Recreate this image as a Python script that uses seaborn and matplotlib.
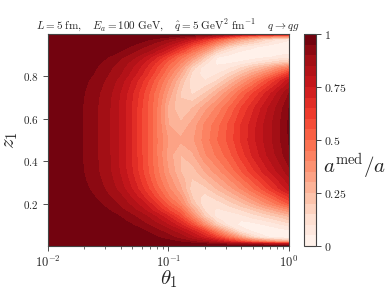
import numpy as np
import matplotlib
matplotlib.use("Agg")
import matplotlib.pyplot as plt
import seaborn as sns

# emission angle theta_1 (log spaced columns) and momentum fraction z_1 (rows)
theta = [0.01, 0.0158, 0.02, 0.0251, 0.0316, 0.0398, 0.0501, 0.0631, 0.0794, 0.1,
         0.126, 0.158, 0.2, 0.251, 0.316, 0.398, 0.501, 0.631, 0.794, 1.0]
z = [0.0, 0.01, 0.02, 0.04, 0.055, 0.07, 0.1, 0.12, 0.14, 0.17, 0.2, 0.235,
     0.27, 0.31, 0.35, 0.43, 0.5, 0.57, 0.65, 0.72, 0.78, 0.81, 0.84, 0.865,
     0.89, 0.915, 0.94, 0.96, 0.975, 0.99, 1.0]

ratio = [
    [1, 1, 1, 1, 1, 1, 1, 1, 1, 1, 1, 1, 1, 1, 1, 1, 1, 0.99, 0.98, 0.97],
    [1, 1, 1, 1, 1, 1, 1, 1, 1, 1, 0.99, 0.975, 0.95, 0.92, 0.89, 0.86, 0.83, 0.8, 0.77, 0.75],
    [1, 1, 1, 1, 1, 1, 1, 1, 0.99, 0.975, 0.945, 0.905, 0.86, 0.785, 0.69, 0.6, 0.5, 0.42, 0.35, 0.3],
    [1, 1, 1, 1, 1, 1, 0.994, 0.981, 0.957, 0.921, 0.878, 0.815, 0.73, 0.62, 0.48, 0.33, 0.17, 0.07, 0.025, 0.01],
    [1, 1, 1, 1, 1, 0.998, 0.988, 0.97, 0.939, 0.898, 0.849, 0.771, 0.67, 0.52, 0.36, 0.2, 0.09, 0.03, 0.012, 0.01],
    [1, 1, 1, 1, 1, 0.993, 0.98, 0.954, 0.917, 0.873, 0.81, 0.72, 0.6, 0.42, 0.25, 0.1, 0.04, 0.015, 0.015, 0.03],
    [1, 1, 1, 1, 0.992, 0.978, 0.951, 0.913, 0.869, 0.8, 0.71, 0.58, 0.38, 0.2, 0.08, 0.03, 0.025, 0.05, 0.08, 0.12],
    [1, 1, 1, 0.996, 0.984, 0.963, 0.929, 0.887, 0.83, 0.75, 0.644, 0.49, 0.29, 0.13, 0.06, 0.05, 0.07, 0.1, 0.14, 0.185],
    [1, 1, 1, 0.991, 0.977, 0.948, 0.909, 0.865, 0.793, 0.7, 0.58, 0.4, 0.2, 0.08, 0.06, 0.08, 0.12, 0.16, 0.2, 0.25],
    [1, 1, 0.992, 0.978, 0.951, 0.913, 0.869, 0.8, 0.71, 0.598, 0.5, 0.31, 0.14, 0.09, 0.11, 0.15, 0.2, 0.26, 0.32, 0.39],
    [1, 0.996, 0.984, 0.963, 0.929, 0.887, 0.83, 0.755, 0.644, 0.527, 0.41, 0.23, 0.1, 0.12, 0.17, 0.23, 0.3, 0.38, 0.46, 0.55],
    [1, 0.99, 0.975, 0.945, 0.905, 0.86, 0.785, 0.69, 0.575, 0.455, 0.36, 0.19, 0.13, 0.18, 0.245, 0.315, 0.395, 0.48, 0.57, 0.665],
    [1, 0.984, 0.962, 0.929, 0.886, 0.828, 0.745, 0.64, 0.525, 0.41, 0.31, 0.16, 0.18, 0.25, 0.32, 0.4, 0.49, 0.58, 0.68, 0.78],
    [1, 0.98, 0.954, 0.917, 0.873, 0.81, 0.72, 0.61, 0.49, 0.378, 0.28, 0.19, 0.24, 0.31, 0.385, 0.47, 0.56, 0.65, 0.74, 0.83],
    [1, 0.977, 0.948, 0.909, 0.865, 0.793, 0.7, 0.587, 0.467, 0.35, 0.25, 0.22, 0.3, 0.37, 0.45, 0.54, 0.63, 0.72, 0.8, 0.88],
    [1, 0.975, 0.945, 0.905, 0.86, 0.785, 0.69, 0.575, 0.455, 0.32, 0.25, 0.29, 0.39, 0.46, 0.53, 0.62, 0.71, 0.79, 0.86, 0.94],
    [1, 0.975, 0.945, 0.905, 0.86, 0.785, 0.69, 0.575, 0.455, 0.345, 0.31, 0.34, 0.42, 0.495, 0.565, 0.655, 0.735, 0.81, 0.88, 0.955],
    [1, 0.975, 0.945, 0.905, 0.86, 0.785, 0.69, 0.575, 0.455, 0.3, 0.26, 0.32, 0.41, 0.48, 0.56, 0.65, 0.73, 0.81, 0.88, 0.96],
    [1, 0.975, 0.945, 0.905, 0.86, 0.785, 0.69, 0.575, 0.455, 0.28, 0.21, 0.25, 0.33, 0.41, 0.5, 0.6, 0.69, 0.78, 0.86, 0.95],
    [1, 0.978, 0.95, 0.911, 0.867, 0.796, 0.704, 0.592, 0.473, 0.33, 0.195, 0.14, 0.2, 0.29, 0.39, 0.5, 0.6, 0.7, 0.8, 0.9],
    [1, 0.983, 0.961, 0.927, 0.885, 0.825, 0.74, 0.637, 0.52, 0.39, 0.24, 0.11, 0.1, 0.15, 0.24, 0.34, 0.44, 0.55, 0.66, 0.78],
    [1, 0.989, 0.972, 0.941, 0.9, 0.852, 0.776, 0.679, 0.563, 0.435, 0.295, 0.13, 0.075, 0.1, 0.16, 0.245, 0.33, 0.415, 0.52, 0.64],
    [1, 0.992, 0.978, 0.951, 0.913, 0.869, 0.8, 0.71, 0.598, 0.479, 0.35, 0.17, 0.065, 0.06, 0.09, 0.15, 0.22, 0.28, 0.37, 0.45],
    [1, 0.996, 0.984, 0.962, 0.928, 0.886, 0.828, 0.745, 0.64, 0.524, 0.41, 0.26, 0.12, 0.04, 0.04, 0.06, 0.1, 0.14, 0.18, 0.22],
    [1, 1, 0.991, 0.977, 0.948, 0.909, 0.865, 0.793, 0.7, 0.587, 0.467, 0.356, 0.2, 0.05, 0.025, 0.015, 0.02, 0.04, 0.06, 0.08],
    [1, 1, 1, 0.99, 0.975, 0.945, 0.905, 0.86, 0.785, 0.69, 0.575, 0.455, 0.32, 0.16, 0.08, 0.04, 0.03, 0.025, 0.025, 0.03],
    [1, 1, 1, 1, 0.989, 0.972, 0.942, 0.9, 0.852, 0.776, 0.68, 0.56, 0.45, 0.3, 0.18, 0.1, 0.06, 0.03, 0.015, 0.01],
    [1, 1, 1, 1, 0.998, 0.987, 0.969, 0.937, 0.896, 0.845, 0.766, 0.667, 0.57, 0.44, 0.32, 0.23, 0.17, 0.11, 0.06, 0.03],
    [1, 1, 1, 1, 1, 0.998, 0.986, 0.966, 0.933, 0.892, 0.835, 0.76, 0.655, 0.54, 0.42, 0.32, 0.24, 0.16, 0.1, 0.06],
    [1, 1, 1, 1, 1, 1, 1, 1, 0.99, 0.975, 0.945, 0.905, 0.86, 0.785, 0.69, 0.575, 0.5, 0.45, 0.42, 0.4],
    [1, 1, 1, 1, 1, 1, 1, 1, 1, 1, 1, 1, 0.98, 0.96, 0.94, 0.92, 0.9, 0.88, 0.85, 0.82],
]

xticks = [0.01, 0.1, 1.0]
xticklabels = [r"$10^{-2}$", r"$10^{-1}$", r"$10^{0}$"]
yticks = [0.2, 0.4, 0.6, 0.8]
cticks = [0, 0.25, 0.5, 0.75, 1]
cticklabels = [r"$0$", r"$0.25$", r"$0.5$", r"$0.75$", r"$1$"]

sns.set_theme(style="ticks")
plt.rcParams["font.family"] = ["DejaVu Serif"]
plt.rcParams["mathtext.fontset"] = "cm"

fig = plt.figure(figsize=(3.88, 2.91), dpi=100)
ax = fig.add_axes([0.1237, 0.1546, 0.6211, 0.7286])
cax = fig.add_axes([0.7835, 0.1546, 0.031, 0.7286])

cmap = sns.color_palette("Reds", as_cmap=True)
cs = ax.contourf(theta, z, np.array(ratio), levels=np.linspace(0, 1, 21), cmap=cmap)

ax.set_xscale("log")
ax.set_xlim(0.01, 1.0)
ax.set_ylim(0, 1)
ax.set_xticks(xticks)
ax.set_xticklabels(xticklabels, fontsize=9)
ax.set_yticks(yticks)
ax.set_yticklabels([r"$%g$" % t for t in yticks], fontsize=8)
ax.tick_params(which="major", length=3.5, width=0.6, color="#333333", pad=3)
ax.tick_params(which="minor", length=2, width=0.5, color="#333333")
for sp in ax.spines.values():
    sp.set_linewidth(0.8)
    sp.set_color("#444444")

ax.set_xlabel(r"$\theta_1$", fontsize=15, labelpad=-1)
ax.set_ylabel(r"$z_1$", fontsize=15, labelpad=2)
ax.set_title(r"$L = 5\ \mathrm{fm},\quad E_a = 100\ \mathrm{GeV},\quad "
             r"\hat{q} = 5\ \mathrm{GeV}^2\ \mathrm{fm}^{-1}\quad\ q \to qg$",
             fontsize=8, pad=3)

cbar = fig.colorbar(cs, cax=cax, ticks=cticks)
cbar.set_ticklabels(cticklabels)
cbar.ax.tick_params(labelsize=8.5, length=3.5, width=0.6, pad=2)
cbar.outline.set_linewidth(0.8)
cbar.outline.set_edgecolor("#444444")
fig.text(0.832, 0.43, r"$a^{\rm med}/a$", fontsize=15, ha="left", va="center")

fig.savefig("out.png", dpi=100)
plt.close(fig)
